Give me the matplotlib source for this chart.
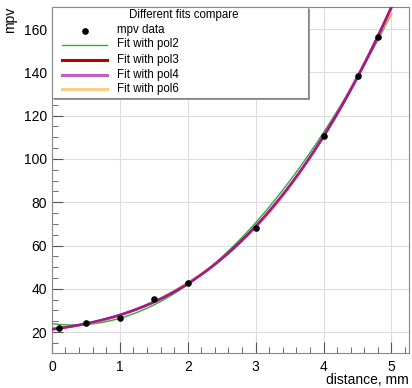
import numpy as np
import matplotlib
matplotlib.use('Agg')
import matplotlib.pyplot as plt
from matplotlib.ticker import MultipleLocator
from matplotlib.patches import Rectangle

plt.rcParams['font.family'] = ['Liberation Sans', 'DejaVu Sans']

# measured points
distance = [0.1, 0.5, 1.0, 1.5, 2.0, 3.0, 4.0, 4.5, 4.8]
mpv = [21.7, 24.4, 26.3, 35.2, 42.6, 68.0, 110.8, 138.2, 156.3]

fit_orders = [2, 3, 4, 6]
fit_labels = ['Fit with pol2', 'Fit with pol3', 'Fit with pol4', 'Fit with pol6']
fit_colors = ['#33aa33', '#cc0000', '#a0189a', '#ffaa55']
legend_colors = ['#33aa33', '#bb0000', '#c060c0', '#ffcc88']
fit_widths = [1.0, 1.8, 1.8, 1.4]
fit_z = [3, 4, 6, 5]

fig = plt.figure(figsize=(4.12, 3.88), dpi=100)
ax = fig.add_axes([0.126, 0.090, 0.867, 0.892])

# fitted curves from the points
xs = np.linspace(0, 5, 300)
for order, lab, col, lw, z in zip(fit_orders, fit_labels, fit_colors, fit_widths, fit_z):
    coef = np.polyfit(distance, mpv, order)
    ax.plot(xs, np.polyval(coef, xs), color=col, lw=lw, label=lab, zorder=z)

ax.scatter(distance, mpv, s=14, color='black', zorder=7, label='mpv data')

ax.set_xlim(0, 5.26)
ax.set_ylim(10.3, 170.2)
ax.xaxis.set_major_locator(MultipleLocator(1))
ax.xaxis.set_minor_locator(MultipleLocator(0.2))
ax.yaxis.set_major_locator(MultipleLocator(20))
ax.yaxis.set_minor_locator(MultipleLocator(5))
ax.tick_params(which='both', direction='in', labelsize=10, color='#555555')
ax.tick_params(which='major', length=8)
ax.tick_params(which='minor', length=4)
ax.tick_params(axis='x', pad=5)
ax.grid(True, which='major', color='#dddddd', lw=0.8)
ax.set_axisbelow(True)
for s in ax.spines.values():
    s.set_color('#888888')

fig.text(0.025, 0.982, 'mpv', rotation=90, ha='center', va='top', fontsize=10)
fig.text(0.993, 0.003, 'distance, mm', ha='right', va='bottom', fontsize=10)

# legend box with shadow
lx0, ly0, lx1, ly1 = 52 / 412, 1 - 98 / 388, 308 / 412, 1 - 7 / 388
fig.patches.append(Rectangle((lx0 + 0.004, ly0 - 0.004), lx1 - lx0, ly1 - ly0,
                             transform=fig.transFigure, facecolor='#999999',
                             edgecolor='none', zorder=9))
fig.patches.append(Rectangle((lx0, ly0), lx1 - lx0, ly1 - ly0,
                             transform=fig.transFigure, facecolor='white',
                             edgecolor='#888888', lw=0.8, zorder=10))
fig.text(129 / 412, 1 - 15 / 388, 'Different fits compare',
         ha='left', va='center', fontsize=8.3, zorder=11)
rows = ['mpv data'] + fit_labels
row_y = [30.5, 44.5, 60, 75, 89]
for i, lab in enumerate(rows):
    yy = 1 - row_y[i] / 388
    if i == 0:
        fig.lines.append(plt.Line2D([85 / 412], [yy], marker='o', ms=3.8,
                                    color='black', ls='none',
                                    transform=fig.transFigure, zorder=11))
    else:
        fig.lines.append(plt.Line2D([62 / 412, 107 / 412], [yy, yy],
                                    color=legend_colors[i - 1], lw=1.0 if i == 1 else 2.2,
                                    transform=fig.transFigure, zorder=11))
    fig.text(117 / 412, yy, lab, ha='left', va='center', fontsize=8.3, zorder=11)

fig.savefig('out.png', dpi=100)
